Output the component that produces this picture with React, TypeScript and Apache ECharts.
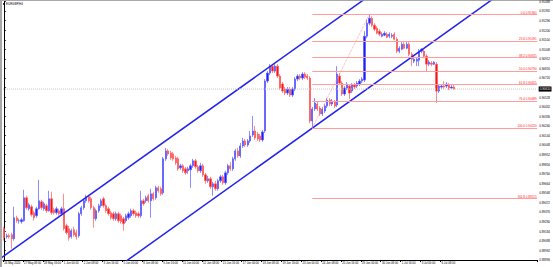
import React, { useEffect, useRef } from "react";
import * as echarts from "echarts";

const chartTitle = "EURGBP,H4";
const startDate = "2020-05-26T00:00:00Z";
const totalSlots = 215;

const opens = [
  0.8921,0.8913,0.8914,0.8915,0.8911,0.8932,0.8929,0.8928,0.8929,0.8952,
  0.8941,0.8943,0.8937,0.8934,0.8941,0.8948,0.8941,0.8944,0.8939,0.8951,
  0.8940,0.8937,0.8939,0.8936,0.8941,0.8924,0.8921,0.8913,0.8920,0.8917,
  0.8914,0.8936,0.8942,0.8949,0.8953,0.8951,0.8942,0.8931,0.8939,0.8944,
  0.8951,0.8944,0.8941,0.8937,0.8936,0.8931,0.8936,0.8934,0.8931,0.8929,
  0.8932,0.8934,0.8939,0.8937,0.8936,0.8934,0.8949,0.8949,0.8954,0.8949,
  0.8956,0.8952,0.8962,0.8961,0.8957,0.8991,0.8999,0.8997,0.8996,0.8992,
  0.8991,0.8982,0.8984,0.8981,0.8979,0.8980,0.8984,0.8989,0.8983,0.8979,
  0.8984,0.8975,0.8969,0.8971,0.8963,0.8966,0.8961,0.8969,0.8973,0.8967,
  0.8977,0.8984,0.8981,0.8991,0.8999,0.8994,0.9004,
  0.9009,0.9005,
  0.9009,0.9015,0.9019,0.9016,0.9014,0.9010,0.9019,
  0.9069,0.9077,0.9084,0.9079,0.9084,0.9074,0.9066,0.9061,0.9057,0.9061,
  0.9055,0.9061,0.9071,0.9074,0.9072,0.9076,0.9074,0.9072,0.9029,0.9041,
  0.9046,0.9042,0.9036,0.9039,0.9044,0.9050,0.9046,0.9048,0.9045,0.9074,
  0.9067,0.9056,0.9062,0.9064,0.9059,0.9065,0.9064,0.9066,0.9069,0.9070,
  0.9114,0.9127,0.9132,0.9125,0.9122,0.9119,0.9114,0.9115,0.9116,0.9114,
  0.9114,0.9116,0.9111,0.9099,0.9101,0.9106,0.9102,0.9106,0.9096,0.9089,
  0.9089,0.9090,0.9099,0.9099,0.9094,0.9086,0.9087,0.9086,0.9086,0.9059,
  0.9063,0.9064,0.9064,0.9065,0.9062,0.9063,
];

const closes = [
  0.8912,0.8914,0.8913,0.8911,0.8932,0.8929,0.8929,0.8930,0.8952,0.8942,
  0.8945,0.8935,0.8932,0.8941,0.8949,0.8942,0.8946,0.8939,0.8951,0.8937,
  0.8937,0.8941,0.8936,0.8941,0.8921,0.8917,0.8912,0.8919,0.8915,0.8913,
  0.8936,0.8942,0.8949,0.8953,0.8949,0.8942,0.8931,0.8939,0.8944,0.8949,
  0.8944,0.8939,0.8936,0.8932,0.8931,0.8936,0.8929,0.8928,0.8926,0.8934,
  0.8936,0.8939,0.8936,0.8934,0.8934,0.8949,0.8946,0.8952,0.8949,0.8956,
  0.8951,0.8962,0.8959,0.8956,0.8991,0.8999,0.8996,0.8992,0.8991,0.8987,
  0.8981,0.8984,0.8979,0.8977,0.8981,0.8984,0.8989,0.8983,0.8979,0.8984,
  0.8975,0.8969,0.8971,0.8963,0.8966,0.8961,0.8969,0.8973,0.8967,0.8977,
  0.8984,0.8981,0.8991,0.8999,0.8994,0.9004,0.9009,
  0.9005,0.9009,
  0.9014,0.9019,0.9012,0.9011,0.9010,0.9018,0.9069,
  0.9077,0.9084,0.9079,0.9084,0.9074,0.9062,0.9059,0.9057,0.9061,0.9055,
  0.9061,0.9071,0.9074,0.9072,0.9076,0.9073,0.9072,0.9029,0.9041,0.9047,
  0.9041,0.9036,0.9041,0.9044,0.9050,0.9046,0.9049,0.9044,0.9076,0.9067,
  0.9056,0.9062,0.9066,0.9057,0.9065,0.9063,0.9067,0.9069,0.9071,0.9114,
  0.9127,0.9132,0.9125,0.9121,0.9117,0.9116,0.9116,0.9117,0.9113,0.9116,
  0.9115,0.9111,0.9099,0.9102,0.9106,0.9102,0.9106,0.9096,0.9091,0.9091,
  0.9091,0.9099,0.9101,0.9094,0.9086,0.9088,0.9086,0.9088,0.9059,0.9064,
  0.9064,0.9063,0.9066,0.9062,0.9063,0.9061,
];

const lows = [
  0.8909,0.8911,0.8911,0.8901,0.8909,0.8927,0.8926,0.8926,0.8928,0.8940,
  0.8939,0.8933,0.8929,0.8932,0.8940,0.8940,0.8939,0.8937,0.8938,0.8935,
  0.8935,0.8935,0.8934,0.8934,0.8919,0.8915,0.8909,0.8911,0.8913,0.8910,
  0.8912,0.8934,0.8940,0.8947,0.8947,0.8940,0.8922,0.8929,0.8937,0.8942,
  0.8942,0.8937,0.8934,0.8930,0.8929,0.8929,0.8927,0.8926,0.8919,0.8927,
  0.8930,0.8932,0.8934,0.8932,0.8932,0.8932,0.8944,0.8947,0.8947,0.8932,
  0.8949,0.8950,0.8957,0.8954,0.8955,0.8989,0.8994,0.8990,0.8989,0.8985,
  0.8979,0.8980,0.8977,0.8975,0.8976,0.8962,0.8982,0.8981,0.8977,0.8977,
  0.8973,0.8966,0.8967,0.8961,0.8954,0.8959,0.8959,0.8967,0.8965,0.8965,
  0.8975,0.8979,0.8979,0.8989,0.8992,0.8992,0.9002,
  0.9003,0.9003,
  0.9007,0.9013,0.9010,0.9009,0.9008,0.9008,0.9017,
  0.9067,0.9075,0.9077,0.9077,0.9072,0.9060,0.9057,0.9055,0.9055,0.9053,
  0.9053,0.9059,0.9069,0.9070,0.9070,0.9071,0.9070,0.9027,0.9022,0.9039,
  0.9039,0.9034,0.9034,0.9037,0.9042,0.9044,0.9044,0.9042,0.9043,0.9065,
  0.9054,0.9054,0.9060,0.9051,0.9057,0.9061,0.9062,0.9064,0.9067,0.9068,
  0.9112,0.9125,0.9123,0.9119,0.9116,0.9114,0.9113,0.9114,0.9112,0.9112,
  0.9112,0.9110,0.9097,0.9097,0.9100,0.9101,0.9101,0.9094,0.9084,0.9087,
  0.9084,0.9084,0.9097,0.9092,0.9079,0.9084,0.9084,0.9085,0.9047,0.9057,
  0.9061,0.9061,0.9062,0.9060,0.9061,0.9060,
];

const highs = [
  0.8923,0.8916,0.8916,0.8917,0.8943,0.8934,0.8931,0.8932,0.8960,0.8954,
  0.8947,0.8945,0.8939,0.8943,0.8970,0.8950,0.8948,0.8946,0.8959,0.8958,
  0.8942,0.8943,0.8941,0.8943,0.8956,0.8926,0.8924,0.8921,0.8923,0.8920,
  0.8938,0.8944,0.8951,0.8955,0.8955,0.8953,0.8944,0.8941,0.8946,0.8951,
  0.8953,0.8946,0.8943,0.8939,0.8938,0.8938,0.8938,0.8936,0.8933,0.8936,
  0.8938,0.8941,0.8941,0.8939,0.8938,0.8959,0.8951,0.8954,0.8956,0.8961,
  0.8958,0.8964,0.8964,0.8963,0.8993,0.9002,0.9001,0.8999,0.8998,0.8994,
  0.8993,0.8986,0.8986,0.8983,0.8983,0.8986,0.8991,0.8991,0.8985,0.8987,
  0.8986,0.8977,0.8974,0.8973,0.8968,0.8969,0.8971,0.8975,0.8975,0.8979,
  0.8986,0.8988,0.8993,0.9001,0.9002,0.9007,0.9012,
  0.9011,0.9011,
  0.9019,0.9034,0.9024,0.9018,0.9016,0.9020,0.9071,
  0.9079,0.9086,0.9085,0.9086,0.9086,0.9076,0.9068,0.9063,0.9063,0.9063,
  0.9063,0.9073,0.9076,0.9076,0.9078,0.9078,0.9076,0.9074,0.9043,0.9052,
  0.9048,0.9044,0.9043,0.9046,0.9052,0.9052,0.9051,0.9050,0.9084,0.9077,
  0.9069,0.9064,0.9068,0.9066,0.9067,0.9067,0.9069,0.9071,0.9073,0.9119,
  0.9131,0.9136,0.9134,0.9127,0.9124,0.9121,0.9118,0.9119,0.9118,0.9118,
  0.9117,0.9118,0.9113,0.9104,0.9108,0.9108,0.9109,0.9108,0.9098,0.9093,
  0.9093,0.9101,0.9102,0.9101,0.9096,0.9090,0.9089,0.9089,0.9088,0.9066,
  0.9066,0.9069,0.9068,0.9067,0.9066,0.9065,
];

// trend channel anchors: [bar index, price]
const upperChannel = [[0, 0.88939], [140, 0.91422]];
const lowerChannel = [[52, 0.88937], [194, 0.91465]];

// Fibonacci retracement anchors
const fibLow = { bar: 124, price: 0.9022 };
const fibHigh = { bar: 147, price: 0.9136 };
const fibRatios = [0, 23.6, 38.2, 50, 61.8, 76.4, 100, 161.8];

// price axis
const yMin = 0.88896;
const yMax = 0.91488;
const yStep = 0.00096;
const labelEvery = 8;

const MONTHS = ["Jan","Feb","Mar","Apr","May","Jun","Jul","Aug","Sep","Oct","Nov","Dec"];
const pad = (n: number) => (n < 10 ? "0" + n : "" + n);

export default function App() {
  const ref = useRef<HTMLDivElement>(null);
  useEffect(() => {
    if (!ref.current) return;
    const chart = echarts.init(ref.current, null, { renderer: "svg" });
    const n = opens.length;
    const candles = opens.map((o, i) => [o, closes[i], lows[i], highs[i]]);

    const cats: string[] = [];
    let t = Date.parse(startDate);
    while (cats.length < totalSlots) {
      const d = new Date(t);
      const wd = d.getUTCDay();
      if (wd !== 0 && wd !== 6) {
        cats.push(
          cats.length === 0
            ? `${d.getUTCDate()} ${MONTHS[d.getUTCMonth()]} ${d.getUTCFullYear()}`
            : `${d.getUTCDate()} ${MONTHS[d.getUTCMonth()]} ${pad(d.getUTCHours())}:00`
        );
      }
      t += 4 * 3600 * 1000;
    }

    const extend = (a: number[][], x0: number, x1: number) => {
      const s = (a[1][1] - a[0][1]) / (a[1][0] - a[0][0]);
      return [
        [x0, a[0][1] + (x0 - a[0][0]) * s],
        [x1, a[0][1] + (x1 - a[0][0]) * s],
      ];
    };

    const showLabel = (idx: number) => idx % labelEvery === 0 && idx < n - 2;
    const range = fibHigh.price - fibLow.price;
    const fibLines = fibRatios.map((r) => {
      const p = fibHigh.price - (r / 100) * range;
      const txt = `${r.toFixed(1)} ${p.toFixed(5)}`;
      return [
        { name: txt, coord: [fibLow.bar, p] },
        { name: txt, coord: [totalSlots - 0.5, p] },
      ];
    });
    const lastClose = closes[n - 1];
    const font = "Liberation Sans, DejaVu Sans, sans-serif";

    chart.setOption({
      animation: false,
      backgroundColor: "#ffffff",
      textStyle: { fontFamily: font },
      grid: { left: 3, right: 14, top: 1, bottom: 7 },
      xAxis: [
        {
          type: "category",
          data: cats,
          boundaryGap: true,
          axisLine: { lineStyle: { color: "#000", width: 1 } },
          axisTick: { show: true, length: 2, interval: (i: number) => showLabel(i), lineStyle: { color: "#000" } },
          axisLabel: { interval: (i: number) => showLabel(i), fontSize: 2.8, color: "#000", align: "left", margin: 1.5 },
          splitLine: { show: false },
        },
        { type: "value", min: -0.5, max: totalSlots - 0.5, show: false },
      ],
      yAxis: {
        type: "value",
        position: "right",
        min: yMin,
        max: yMax,
        interval: yStep,
        axisLine: { show: true, lineStyle: { color: "#000", width: 1 } },
        axisTick: { show: true, length: 1.5, lineStyle: { color: "#000" } },
        axisLabel: { fontSize: 3, margin: 2, color: "#000", formatter: (v: number) => v.toFixed(5) },
        splitLine: { show: false },
      },
      graphic: [
        { type: "rect", left: 0, top: 0, shape: { width: 2, height: 267 }, style: { fill: "#a8a8a8" }, silent: true },
        { type: "rect", left: 0, top: 0, shape: { width: 553, height: 1 }, style: { fill: "#a8a8a8" }, silent: true },
        { type: "rect", left: 3, top: 3, shape: { width: 2, height: 2 }, style: { fill: "#404040" }, silent: true },
        { type: "text", left: 6, top: 2.5, style: { text: chartTitle, fontSize: 3, fill: "#000", fontFamily: font }, silent: true },
      ],
      series: [
        {
          type: "candlestick",
          xAxisIndex: 0,
          yAxisIndex: 0,
          data: candles,
          barWidth: 1.8,
          itemStyle: {
            color: "#1c1cff",
            color0: "#ff1414",
            borderColor: "#5a5aff",
            borderColor0: "#ff5a5a",
            borderWidth: 0.7,
          },
          silent: true,
        },
        {
          type: "line",
          xAxisIndex: 1,
          yAxisIndex: 0,
          data: extend(upperChannel, -10, totalSlots + 10),
          symbol: "none",
          clip: true,
          lineStyle: { color: "#2222ee", width: 1.5 },
          silent: true,
        },
        {
          type: "line",
          xAxisIndex: 1,
          yAxisIndex: 0,
          data: extend(lowerChannel, 30, totalSlots + 10),
          symbol: "none",
          clip: true,
          lineStyle: { color: "#2222ee", width: 1.5 },
          silent: true,
        },
        {
          type: "line",
          xAxisIndex: 1,
          yAxisIndex: 0,
          data: [[fibLow.bar, fibLow.price], [fibHigh.bar, fibHigh.price]],
          symbol: "none",
          lineStyle: { color: "#ff8c8c", width: 0.8, type: "dotted" },
          silent: true,
          markLine: {
            silent: true,
            symbol: "none",
            lineStyle: { color: "#ff9c9c", width: 1, type: "solid" },
            label: {
              show: true,
              position: "insideEndTop",
              formatter: "{b}",
              fontSize: 3,
              color: "#ff2020",
              distance: 0.5,
            },
            data: fibLines,
          },
        },
        {
          type: "line",
          xAxisIndex: 1,
          yAxisIndex: 0,
          data: [[-0.5, lastClose], [totalSlots - 0.5, lastClose]],
          symbol: "none",
          silent: true,
          lineStyle: { color: "#c4c4c4", width: 1, type: "dotted" },
          endLabel: {
            show: true,
            formatter: lastClose.toFixed(5),
            fontSize: 3,
            color: "#fff",
            backgroundColor: "#000",
            padding: [1, 1],
            distance: 1.5,
          },
        },
      ],
    });
    return () => chart.dispose();
  }, []);
  return (
    <div
      ref={ref}
      style={{ position: "absolute", left: 0, top: 0, width: 553, height: 267, background: "#fff" }}
    />
  );
}
